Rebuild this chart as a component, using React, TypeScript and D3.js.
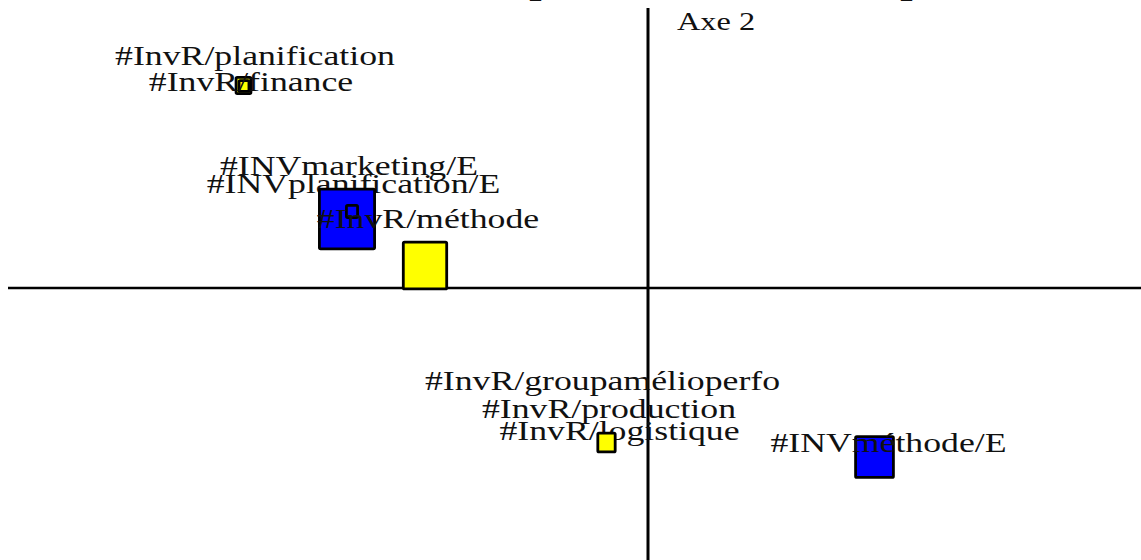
import React from 'react';
import * as d3 from 'd3';

const W = 1141;
const H = 560;

// modalities, in drawing order of the squares
const labels = [
  '#InvR/planification',
  '#InvR/finance',
  '#INVplanification/E',
  '#INVmarketing/E',
  '#InvR/méthode',
  '#InvR/groupamélioperfo',
  '#InvR/production',
  '#InvR/logistique',
  '#INVméthode/E'
];
const groups = ['InvR', 'InvR', 'INV', 'INV', 'InvR', 'InvR', 'InvR', 'InvR', 'INV'];

// factor coordinates (axe 1, axe 2)
const axe1 = [-0.809, -0.808, -0.602, -0.592, -0.446, -0.085, -0.083, -0.083, 0.453];
const axe2 = [0.405, 0.404, 0.138, 0.153, 0.045, -0.309, -0.308, -0.309, -0.338];

// masses (square size)
const masses = [2.4, 1.6, 8.9, 1.8, 7.0, 1.4, 1.9, 2.8, 6.1];

// label anchors in the factor plane
const labelAxe1 = [-0.786, -0.794, -0.589, -0.598, -0.44, -0.091, -0.078, -0.057, 0.481];
const labelAxe2 = [0.446, 0.394, 0.19, 0.226, 0.12, -0.204, -0.26, -0.304, -0.328];

// labels that sit under the squares
const labelsBehind = ['#INVplanification/E', '#InvR/logistique'];

const colors = { InvR: '#ffff00', INV: '#0000ff' };

const x = d3.scaleLinear().domain([-1, 1]).range([148, 1148]);
const y = d3.scaleLinear().domain([-1, 1]).range([788, -212]);
const size = d3.scaleLinear().domain([0, 10]).range([0, 62]);

const font = '"Liberation Serif", "Times New Roman", serif';

function Label({ i }: { i: number }) {
  return (
    <text
      transform={'translate(' + x(labelAxe1[i]) + ',' + y(labelAxe2[i]) + ') scale(1.3,1)'}
      textAnchor="middle"
      fontFamily={font}
      fontSize={27.5}
      fill="#111"
    >
      {labels[i]}
    </text>
  );
}

export default function App() {
  const idx = d3.range(labels.length);

  return (
    <svg
      width={W}
      height={H}
      style={{ position: 'absolute', left: 0, top: 0, background: '#fff' }}
    >
      {/* cut title fragments at the top edge */}
      <text x={530} y={-2} fontFamily={font} fontSize={22} fill="#111">_</text>
      <text x={901} y={-2} fontFamily={font} fontSize={22} fill="#111">_</text>

      {/* axes */}
      <line x1={x(0)} x2={x(0)} y1={y(0.56)} y2={H} stroke="#000" strokeWidth={3} />
      <line x1={x(-1.28)} x2={W} y1={y(0)} y2={y(0)} stroke="#000" strokeWidth={2.5} />
      <text
        transform={'translate(' + (x(0) + 29) + ',30) scale(1.32,1)'}
        fontFamily={font}
        fontSize={24.5}
        fill="#111"
      >
        Axe 2
      </text>

      {idx.filter((i) => labelsBehind.includes(labels[i])).map((i) => (
        <Label key={'lb' + i} i={i} />
      ))}

      {idx.map((i) => {
        const w = size(masses[i]);
        const h = w * 1.08;
        return (
          <rect
            key={'sq' + i}
            x={x(axe1[i]) - w / 2}
            y={y(axe2[i]) - h / 2}
            width={w}
            height={h}
            rx={1.2}
            fill={colors[groups[i]]}
            stroke="#000"
            strokeWidth={2.8}
          />
        );
      })}

      {idx.filter((i) => !labelsBehind.includes(labels[i])).map((i) => (
        <Label key={'lf' + i} i={i} />
      ))}
    </svg>
  );
}
